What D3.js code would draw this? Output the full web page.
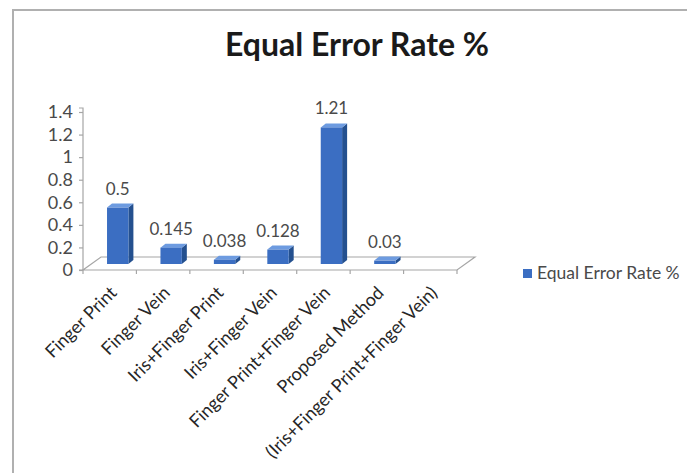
<!DOCTYPE html>
<html>
<head>
<meta charset="utf-8">
<script src="https://cdn.jsdelivr.net/npm/d3@7"></script>
<style>
  html, body { margin: 0; padding: 0; background: #fff; }
  svg { display: block; }
  text { font-family: Lato, "Open Sans", sans-serif; }
</style>
</head>
<body>
<svg id="chart" width="687" height="473"></svg>
<script>
// Equal error rate of each biometric method
const categories = [
  "Finger Print",
  "Finger Vein",
  "Iris+Finger Print",
  "Iris+Finger Vein",
  "Finger Print+Finger Vein",
  "Proposed Method",
  "(Iris+Finger Print+Finger Vein)"
];
const values = [0.5, 0.145, 0.038, 0.128, 1.21, 0.03, null];
const valueLabels = ["0.5", "0.145", "0.038", "0.128", "1.21", "0.03", ""];
const yTicks = [0, 0.2, 0.4, 0.6, 0.8, 1, 1.2, 1.4];
const seriesName = "Equal Error Rate %";

const svg = d3.select("#chart");
const W = 687, H = 473;

// chart frame (only left and top edges fall inside the view)
svg.append("line").attr("x1", 13).attr("y1", 10).attr("x2", W).attr("y2", 10)
  .attr("stroke", "#b0b0b0").attr("stroke-width", 2);
svg.append("line").attr("x1", 13).attr("y1", 9).attr("x2", 13).attr("y2", H)
  .attr("stroke", "#b0b0b0").attr("stroke-width", 2);

// title
svg.append("text")
  .attr("x", 357).attr("y", 56)
  .attr("text-anchor", "middle")
  .attr("font-size", 32).attr("font-weight", "bold")
  .attr("fill", "#1a1a1a")
  .text("Equal Error Rate %");

// scales
const x = d3.scaleBand().domain(categories).range([83, 457])
  .paddingInner(0.6).paddingOuter(0.3);
const y = d3.scaleLinear().domain([0, 1.4]).range([270, 112]);

// floor depth (full) and bar depth
const floorDx = 18, floorDy = -13;
const barOffX = 8, barOffY = -6;
const bdx = 5, bdy = -4;

const axisColor = "#a6a6a6";

// floor
const x0 = 83, x1 = 457, y0 = y(0);
svg.append("path")
  .attr("d", `M${x0},${y0} L${x1},${y0} L${x1 + floorDx},${y0 + floorDy} L${x0 + floorDx},${y0 + floorDy} Z`)
  .attr("fill", "none").attr("stroke", axisColor).attr("stroke-width", 1.2);

// category tick marks along front edge
const step = x.step();
d3.range(categories.length + 1).forEach(i => {
  const tx = x0 + i * step;
  svg.append("line").attr("x1", tx).attr("x2", tx).attr("y1", y0).attr("y2", y0 + 4)
    .attr("stroke", axisColor).attr("stroke-width", 1.2);
});

// value axis
const yAxis = d3.axisLeft(y).tickValues(yTicks).tickSize(4).tickPadding(6)
  .tickFormat(d => String(d));
const gy = svg.append("g").attr("transform", `translate(${x0},0)`).call(yAxis);
gy.select(".domain").attr("stroke", axisColor).attr("stroke-width", 1.2)
  .attr("d", `M-4,${y(1.4) - 4}H0V${y0}H-4`);
gy.selectAll(".tick line").attr("stroke", axisColor).attr("stroke-width", 1.2);
gy.selectAll(".tick text").attr("font-size", 18).attr("fill", "#4a4a4a")
  .attr("font-family", "Lato, 'Open Sans', sans-serif");

// 3D bars
const frontFill = "#3b6ec2", sideFill = "#24508f", topFill = "#6d9be0";
const bars = svg.append("g");
categories.forEach((c, i) => {
  const v = values[i];
  if (v == null) return;
  const bx = x(c) + barOffX;
  const bw = x.bandwidth();
  const yb = y(0) + barOffY;
  const yt = y(v) + barOffY;
  const g = bars.append("g");
  g.append("path")
    .attr("d", `M${bx + bw},${yb} L${bx + bw + bdx},${yb + bdy} L${bx + bw + bdx},${yt + bdy} L${bx + bw},${yt} Z`)
    .attr("fill", sideFill);
  g.append("path")
    .attr("d", `M${bx},${yt} L${bx + bdx},${yt + bdy} L${bx + bw + bdx},${yt + bdy} L${bx + bw},${yt} Z`)
    .attr("fill", topFill);
  g.append("rect").attr("x", bx).attr("y", yt).attr("width", bw).attr("height", yb - yt)
    .attr("fill", frontFill);
  g.append("text")
    .attr("x", bx + bw / 2).attr("y", yt - 13)
    .attr("text-anchor", "middle").attr("font-size", 17).attr("fill", "#4a4a4a")
    .text(valueLabels[i]);
});

// category labels, rotated
categories.forEach(c => {
  const cx = x(c) + x.bandwidth() / 2 + 8;
  svg.append("text")
    .attr("transform", `translate(${cx},${y0 + 24}) rotate(-45)`)
    .attr("text-anchor", "end")
    .attr("font-size", 18).attr("fill", "#262626")
    .text(c);
});

// legend
svg.append("rect").attr("x", 523).attr("y", 269).attr("width", 9).attr("height", 9)
  .attr("fill", frontFill);
svg.append("text").attr("x", 537).attr("y", 279)
  .attr("font-size", 17.5).attr("fill", "#4a4a4a")
  .text(seriesName);
</script>
</body>
</html>
